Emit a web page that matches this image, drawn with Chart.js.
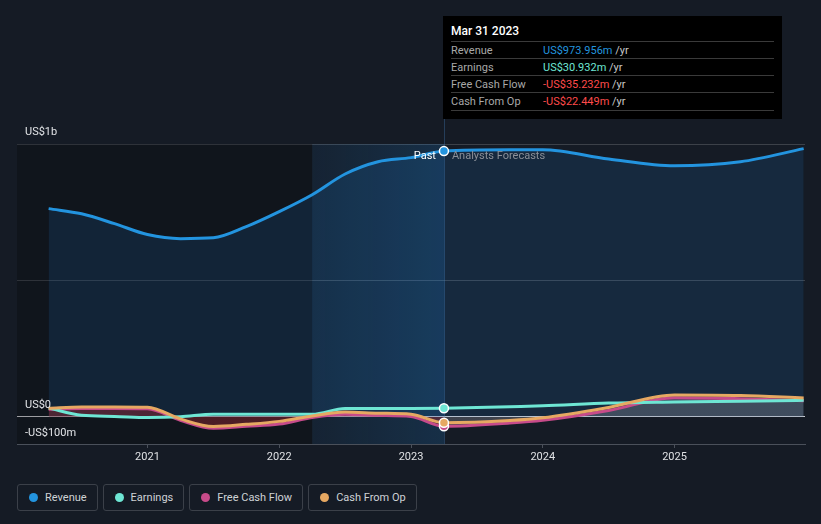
<!DOCTYPE html>
<html>
<head>
<meta charset="utf-8">
<script src="https://cdn.jsdelivr.net/npm/chart.js@4.4.1/dist/chart.umd.min.js"></script>
<style>
  body { margin: 0; background: #151b25; font-family: Roboto, "Noto Sans", sans-serif; }
  #wrap { position: relative; width: 821px; height: 524px; overflow: hidden; }
  #box { position: absolute; left: 0; top: 0; width: 821px; height: 470px; }
  #tip { position: absolute; left: 443px; top: 16px; width: 339px; height: 103px; background: #000; }
  #tip .head { position: absolute; left: 8px; top: 8px; color: #fff; font-size: 12px; font-weight: 500; }
  #tip .row { position: absolute; left: 8px; width: 323px; height: 17px; border-top: 1px solid #3a3a3a; font-size: 11px; line-height: 17px; }
  #tip .row .k { position: absolute; left: 0; color: #a8a8a8; }
  #tip .row .v { position: absolute; left: 92px; }
  #tip .row .u { color: #c8c8c8; }
  #tip .last { position: absolute; left: 8px; top: 94px; width: 323px; border-top: 1px solid #3a3a3a; }
  #legend { position: absolute; left: 17px; top: 484px; display: flex; gap: 5px; }
  .item { border: 1px solid #3b4049; border-radius: 3px; box-sizing: border-box; height: 27px;
          display: flex; align-items: center; padding: 0 10px 0 11px; color: #cfd2d6; font-size: 11px; }
  .dot { width: 9px; height: 9px; border-radius: 50%; margin-right: 7px; }
</style>
</head>
<body>
<div id="wrap">
  <div id="box"><canvas id="chart"></canvas></div>
  <div id="tip">
    <div class="head">Mar 31 2023</div>
    <div class="row" style="top:25px"><span class="k">Revenue</span><span class="v"><span style="color:#2394df">US$973.956m</span> <span class="u">/yr</span></span></div>
    <div class="row" style="top:42px"><span class="k">Earnings</span><span class="v"><span style="color:#6ee6d4">US$30.932m</span> <span class="u">/yr</span></span></div>
    <div class="row" style="top:59px"><span class="k">Free Cash Flow</span><span class="v"><span style="color:#ff4b4b">-US$35.232m</span> <span class="u">/yr</span></span></div>
    <div class="row" style="top:76px"><span class="k">Cash From Op</span><span class="v"><span style="color:#ff4b4b">-US$22.449m</span> <span class="u">/yr</span></span></div>
    <div class="last"></div>
  </div>
  <div id="legend">
    <div class="item"><span class="dot" style="background:#2394df"></span>Revenue</div>
    <div class="item"><span class="dot" style="background:#6ee6d4"></span>Earnings</div>
    <div class="item"><span class="dot" style="background:#c74b8a"></span>Free Cash Flow</div>
    <div class="item"><span class="dot" style="background:#e6a862"></span>Cash From Op</div>
  </div>
</div>
<script>
// decimal years (quarter ends for the past, analyst points afterwards)
const dates = [2020.25, 2020.5, 2020.75, 2021, 2021.25, 2021.5, 2021.75, 2022, 2022.25, 2022.5, 2022.75, 2023, 2023.25,
               2023.75, 2024, 2024.5, 2025, 2025.5, 2025.98];
// US$ millions
const revenue  = [763, 744, 708, 668, 653, 656, 697, 752, 814, 890, 935, 950, 974, 979, 979, 945, 920, 935, 983];
const earnings = [32, 5, 1, -3, 0, 9, 9, 9, 9, 30, 30, 30, 31, 37, 40, 50, 54, 57, 60];
const fcf      = [27, 30, 30, 29, -13, -42, -35, -27, -3, 9, 5, 1, -35, -23, -13, 23, 70, 66, 59];
const cfo      = [31, 36, 36, 35, -8, -36, -28, -17, 3, 17, 13, 9, -22, -14, -4, 34, 80, 78, 69];
const yearTicks = [2021, 2022, 2023, 2024, 2025];
const yTicks = [-100, 0, 500, 1000];
const pastEnd = 12;      // Mar 31 2023
const bandStart = 2022.25;

const pts = (arr) => arr.map((v, i) => ({ x: dates[i], y: v }));
const dotR = (ctx) => ctx.dataIndex === pastEnd ? 4.5 : 0;

function series(label, arr, color, order) {
    return {
        label: label,
        data: pts(arr),
        borderColor: color,
        backgroundColor: color,
        borderWidth: 3,
        cubicInterpolationMode: 'monotone',
        pointRadius: dotR,
        pointHoverRadius: dotR,
        pointBackgroundColor: color,
        pointBorderColor: '#ffffff',
        pointBorderWidth: 1.5,
        fill: false,
        order: order
    };
}

const rev = series('Revenue', revenue, '#2394df', 4);
rev.fill = 'origin';
rev.backgroundColor = 'rgba(33,150,243,0.12)';

const fcfSet = series('Free Cash Flow', fcf, '#c74b8a', 3);
fcfSet.fill = 'origin';
fcfSet.backgroundColor = (c) => {
    const ch = c.chart;
    if (!ch.chartArea) return 'rgba(0,0,0,0)';
    const a = ch.chartArea;
    const px = ch.scales.x.getPixelForValue(dates[pastEnd]);
    const t = Math.min(Math.max((px - a.left) / (a.right - a.left), 0), 1);
    const g = ch.ctx.createLinearGradient(a.left, 0, a.right, 0);
    g.addColorStop(0, 'rgba(150,40,50,0.45)');
    g.addColorStop(t, 'rgba(150,40,50,0.45)');
    g.addColorStop(Math.min(t + 0.001, 1), 'rgba(150,150,160,0.32)');
    g.addColorStop(1, 'rgba(150,150,160,0.32)');
    return g;
};

const earnSet = series('Earnings', earnings, '#6ee6d4', 2);
const cfoSet = series('Cash From Op', cfo, '#e6a862', 1);

const overlay = {
    id: 'overlay',
    beforeDatasetsDraw(chart) {
        const { ctx, chartArea: a, scales: { x } } = chart;
        const xb = x.getPixelForValue(bandStart);
        const xe = x.getPixelForValue(dates[pastEnd]);
        ctx.save();
        ctx.fillStyle = 'rgba(0,0,0,0.22)';
        ctx.fillRect(a.left, a.top, xb - a.left, a.bottom - a.top);
        const g = ctx.createLinearGradient(xb, 0, xe, 0);
        g.addColorStop(0, 'rgba(33,150,243,0.07)');
        g.addColorStop(1, 'rgba(33,150,243,0.17)');
        ctx.fillStyle = g;
        ctx.fillRect(xb, a.top, xe - xb, a.bottom - a.top);
        ctx.strokeStyle = 'rgba(70,130,190,0.35)';
        ctx.lineWidth = 1;
        ctx.beginPath();
        ctx.moveTo(Math.round(xe) + 0.5, 119);
        ctx.lineTo(Math.round(xe) + 0.5, a.bottom);
        ctx.stroke();
        ctx.restore();
    },
    afterDatasetsDraw(chart) {
        const { ctx, scales: { x, y } } = chart;
        ctx.save();
        ctx.font = '11px Roboto, "Noto Sans", sans-serif';
        ctx.textBaseline = 'middle';
        ctx.fillStyle = '#e2e4e7';
        ctx.textAlign = 'left';
        ctx.fillText('US$1b', 25, y.getPixelForValue(1000) - 12);
        ctx.fillText('US$0', 25, y.getPixelForValue(0) - 11);
        ctx.fillText('-US$100m', 25, y.getPixelForValue(-100) - 11);
        const xe = x.getPixelForValue(dates[pastEnd]);
        const ty = y.getPixelForValue(1000) + 12;
        ctx.textAlign = 'right';
        ctx.fillStyle = '#ffffff';
        ctx.fillText('Past', xe - 8, ty);
        ctx.textAlign = 'left';
        ctx.fillStyle = '#8b9099';
        ctx.fillText('Analysts Forecasts', xe + 8, ty);
        ctx.restore();
    }
};

new Chart(document.getElementById('chart'), {
    type: 'line',
    data: { datasets: [rev, earnSet, fcfSet, cfoSet] },
    options: {
        responsive: true,
        maintainAspectRatio: false,
        animation: false,
        layout: { padding: { left: 17, right: 16, top: 144, bottom: 0 } },
        plugins: { legend: { display: false }, tooltip: { enabled: false } },
        scales: {
            x: {
                type: 'linear',
                min: 2020.01,
                max: 2025.99,
                afterBuildTicks: (s) => { s.ticks = yearTicks.map((v) => ({ value: v })); },
                afterFit: (s) => { s.height = 26; },
                ticks: {
                    color: '#dfe1e4',
                    font: { family: 'Roboto', size: 11 },
                    padding: 3,
                    maxRotation: 0,
                    callback: (v) => String(v)
                },
                grid: { drawOnChartArea: false, tickLength: 4, color: '#4a505a' },
                border: { color: '#4a505a' }
            },
            y: {
                min: -100,
                max: 1000,
                afterBuildTicks: (s) => { s.ticks = yTicks.map((v) => ({ value: v })); },
                afterFit: (s) => { s.width = 0; },
                ticks: { display: false },
                grid: {
                    drawTicks: false,
                    color: (c) => c.tick.value === 0 ? '#c9cbd0' : (c.tick.value === -100 ? '#4a505a' : 'rgba(255,255,255,0.17)'),
                    lineWidth: 1
                },
                border: { display: false }
            }
        }
    },
    plugins: [overlay]
});
</script>
</body>
</html>
